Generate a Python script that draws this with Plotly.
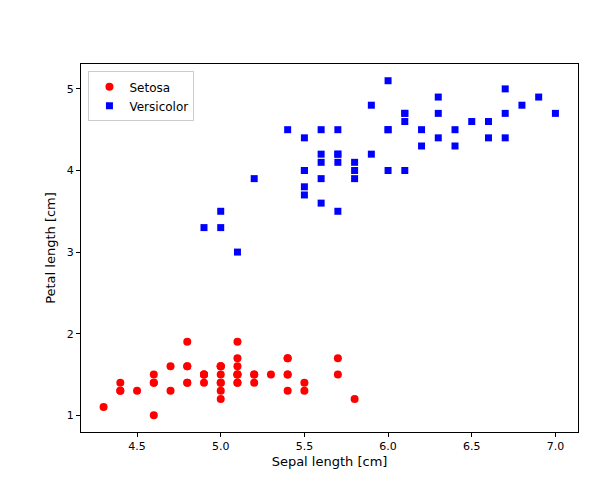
import plotly.graph_objects as go

setosa_sepal = [5.1,4.9,4.7,4.6,5.0,5.4,4.6,5.0,4.4,4.9,5.4,4.8,4.8,4.3,5.8,5.7,5.4,5.1,5.7,5.1,
                5.4,5.1,4.6,5.1,4.8,5.0,5.0,5.2,5.2,4.7,4.8,5.4,5.2,5.5,4.9,5.0,5.5,4.9,4.4,5.1,
                5.0,4.5,4.4,5.0,5.1,4.8,5.1,4.6,5.3,5.0]
setosa_petal = [1.4,1.4,1.3,1.5,1.4,1.7,1.4,1.5,1.4,1.5,1.5,1.6,1.4,1.1,1.2,1.5,1.3,1.4,1.7,1.5,
                1.7,1.5,1.0,1.7,1.9,1.6,1.6,1.5,1.4,1.6,1.6,1.5,1.5,1.4,1.5,1.2,1.3,1.5,1.3,1.5,
                1.3,1.3,1.3,1.6,1.9,1.4,1.6,1.4,1.5,1.4]
versi_sepal = [7.0,6.4,6.9,5.5,6.5,5.7,6.3,4.9,6.6,5.2,5.0,5.9,6.0,6.1,5.6,6.7,5.6,5.8,6.2,5.6,
               5.9,6.1,6.3,6.1,6.4,6.6,6.8,6.7,6.0,5.7,5.5,5.5,5.8,6.0,5.4,6.0,6.7,6.3,5.6,5.5,
               5.5,6.1,5.8,5.0,5.6,5.7,5.7,6.2,5.1,5.7]
versi_petal = [4.7,4.5,4.9,4.0,4.6,4.5,4.7,3.3,4.6,3.9,3.5,4.2,4.0,4.7,3.6,4.4,4.5,4.1,4.5,3.9,
               4.8,4.0,4.9,4.7,4.3,4.4,4.8,5.0,4.5,3.5,3.8,3.7,3.9,5.1,4.5,4.5,4.7,4.4,4.1,4.0,
               4.4,4.6,4.0,3.3,4.2,4.2,4.2,4.3,3.0,4.1]

fig = go.Figure()
fig.add_trace(go.Scatter(x=setosa_sepal, y=setosa_petal, mode="markers", name="Setosa",
                         marker=dict(color="red", symbol="circle", size=8)))
fig.add_trace(go.Scatter(x=versi_sepal, y=versi_petal, mode="markers", name="Versicolor",
                         marker=dict(color="blue", symbol="square", size=7)))
axis = dict(showgrid=False, zeroline=False, showline=True, linecolor="black", linewidth=1,
            mirror=True, ticks="outside", ticklen=4, tickcolor="black", automargin=False,
            tickfont=dict(family="DejaVu Sans", size=11, color="black"))
fig.update_layout(
    width=593, height=477, plot_bgcolor="white", paper_bgcolor="white",
    margin=dict(l=73, r=23, t=56, b=53),
    font=dict(family="DejaVu Sans", size=11, color="black"),
    xaxis=dict(axis, range=[4.165, 7.135], tickvals=[4.5,5.0,5.5,6.0,6.5,7.0],
               ticktext=["4.5","5.0","5.5","6.0","6.5","7.0"],
               title=dict(text="Sepal length [cm]", standoff=4)),
    yaxis=dict(axis, range=[0.795, 5.305], tickvals=[1,2,3,4,5],
               title=dict(text="Petal length [cm]", standoff=8)),
    legend=dict(x=0.015, y=0.98, xanchor="left", yanchor="top", bordercolor="#cccccc",
                borderwidth=1, bgcolor="white", font=dict(size=12)),
)
fig.write_html("out.html")
